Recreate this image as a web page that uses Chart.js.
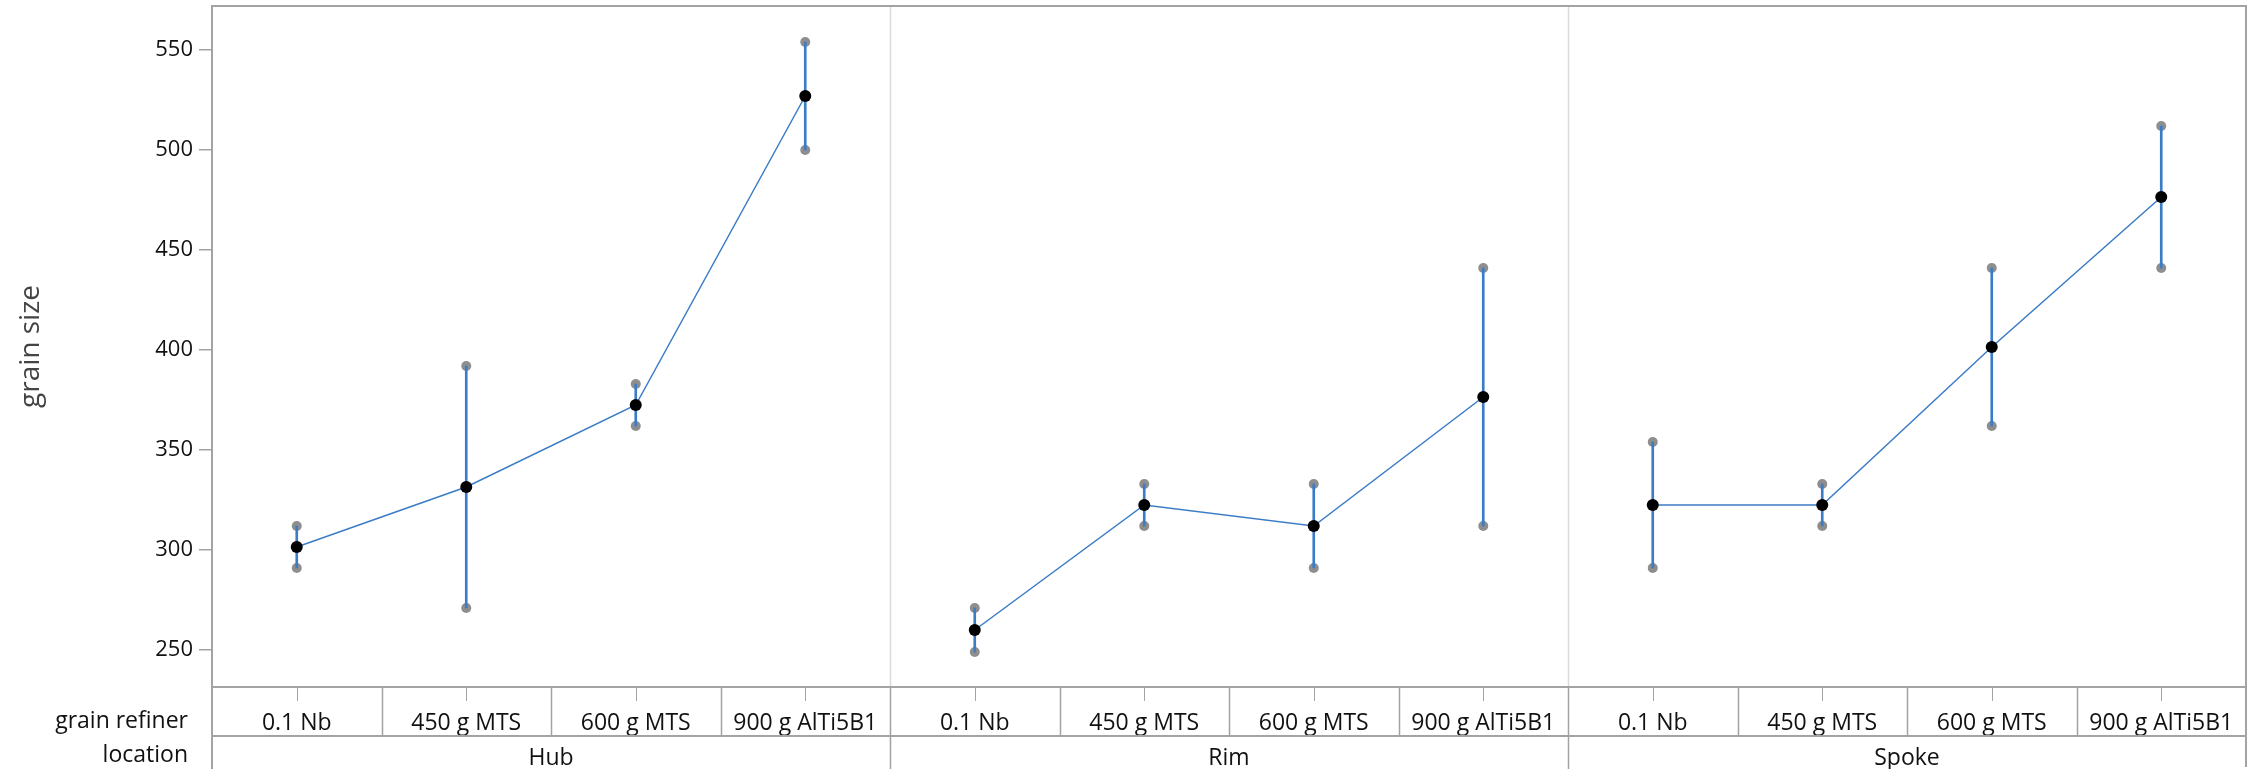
<!DOCTYPE html>
<html><head><meta charset="utf-8">
<script src="https://cdn.jsdelivr.net/npm/chart.js@4.4.1/dist/chart.umd.min.js"></script>
<style>html,body{margin:0;padding:0;background:#fff}canvas{display:block}</style>
</head><body>
<canvas id="c" width="2264" height="769"></canvas>
<script>
// ---- data ----
const refiners = ['0.1 Nb', '450 g MTS', '600 g MTS', '900 g AlTi5B1'];
const locations = ['Hub', 'Rim', 'Spoke'];
const hubMean   = [301.5, 331.5, 372.5, 527];
const hubLow    = [291, 271, 362, 500];
const hubHigh   = [312, 392, 383, 554];
const rimMean   = [260, 322.5, 312, 376.5];
const rimLow    = [249, 312, 291, 312];
const rimHigh   = [271, 333, 333, 441];
const spokeMean = [322.5, 322.5, 401.5, 476.5];
const spokeLow  = [291, 312, 362, 441];
const spokeHigh = [354, 333, 441, 512];
const yTicks = [250, 300, 350, 400, 450, 500, 550];
const yTitle = 'grain size';
const rowTitles = ['grain refiner', 'location'];

// ---- build library structures ----
const labels = [].concat(refiners, refiners, refiners);
const lows = [].concat(hubLow, rimLow, spokeLow);
const highs = [].concat(hubHigh, rimHigh, spokeHigh);
const ranges = lows.map((l, i) => [l, highs[i]]);
const nulls4 = [null, null, null, null];
const hubLine = [].concat(hubMean, nulls4, nulls4);
const rimLine = [].concat(nulls4, rimMean, nulls4);
const spokeLine = [].concat(nulls4, nulls4, spokeMean);

const BLUE = '#3b7cc6';
const GRAY = '#8e8e8e';
const LINE = '#a3a3a3';
const FONT = '"Open Sans", "Noto Sans", sans-serif';

const meanDs = (d) => ({
  type: 'line', data: d, borderColor: BLUE, borderWidth: 1.5, spanGaps: false,
  pointRadius: 6, pointBackgroundColor: '#000', pointBorderColor: '#000', pointBorderWidth: 0,
  order: 1, clip: false
});

const noPad = s => { s.paddingTop = 0; s.paddingBottom = 0; s.paddingLeft = 0; s.paddingRight = 0; };

const tablePlugin = {
  id: 'tablePlugin',
  beforeDatasetsDraw(chart) {
    const {ctx, chartArea: a, scales: {x}} = chart;
    const step = x.getPixelForValue(1) - x.getPixelForValue(0);
    ctx.save();
    ctx.strokeStyle = '#dadada'; ctx.lineWidth = 1.5;
    [4, 8].forEach(k => {
      const px = Math.round(x.getPixelForValue(k) - step / 2) + 0.5;
      ctx.beginPath(); ctx.moveTo(px, a.top); ctx.lineTo(px, a.bottom); ctx.stroke();
    });
    ctx.restore();
  },
  afterDraw(chart) {
    const {ctx, chartArea: a, scales: {x}} = chart;
    const step = x.getPixelForValue(1) - x.getPixelForValue(0);
    const bottom = chart.height;
    ctx.save();
    ctx.strokeStyle = LINE; ctx.lineWidth = 1.5;
    const vline = (px, y0, y1) => { ctx.beginPath(); ctx.moveTo(px, y0); ctx.lineTo(px, y1); ctx.stroke(); };
    const hline = (py, x0, x1) => { ctx.beginPath(); ctx.moveTo(x0, py); ctx.lineTo(x1, py); ctx.stroke(); };
    for (let k = 1; k < labels.length; k++) {
      const px = Math.round(x.getPixelForValue(k) - step / 2) + 0.5;
      vline(px, a.bottom, k % 4 === 0 ? bottom : x.bottom);
    }
    ctx.lineWidth = 1;
    for (let i = 0; i < labels.length; i++) {
      const px = Math.round(x.getPixelForValue(i)) + 0.5;
      vline(px, a.bottom, a.bottom + 14);
    }
    ctx.lineWidth = 2;
    hline(a.top, a.left, a.right);
    hline(a.bottom, a.left, a.right);
    hline(x.bottom, a.left, a.right);
    vline(a.left, a.top - 1, bottom);
    vline(a.right, a.top - 1, bottom - 2);
    ctx.fillStyle = '#111';
    ctx.font = '23px ' + FONT;
    ctx.textAlign = 'right'; ctx.textBaseline = 'middle';
    ctx.fillText(rowTitles[0], a.left - 24, x.top + 34);
    ctx.fillText(rowTitles[1], a.left - 24, x.bottom + 19);
    ctx.restore();
  }
};

new Chart(document.getElementById('c'), {
  data: {
    labels: labels,
    datasets: [
      { type: 'line', data: lows, showLine: false, pointRadius: 5, pointBackgroundColor: GRAY, pointBorderWidth: 0, order: 3, clip: false },
      { type: 'line', data: highs, showLine: false, pointRadius: 5, pointBackgroundColor: GRAY, pointBorderWidth: 0, order: 3, clip: false },
      { type: 'bar', data: ranges, backgroundColor: BLUE, barThickness: 2, borderWidth: 0, order: 2 },
      meanDs(hubLine), meanDs(rimLine), meanDs(spokeLine)
    ]
  },
  options: {
    responsive: false, animation: false,
    layout: { padding: { top: 6, right: 18, left: 0, bottom: 0 } },
    plugins: { legend: { display: false }, tooltip: { enabled: false } },
    scales: {
      x: {
        type: 'category', position: 'bottom', offset: true, weight: 0,
        grid: { display: false }, border: { display: false },
        ticks: { font: { family: FONT, size: 23 }, color: '#111', padding: 15, maxRotation: 0, autoSkip: false },
        afterFit: s => { s.height = 49; noPad(s); }
      },
      x2: {
        type: 'category', position: 'bottom', offset: true, weight: 1, labels: locations,
        grid: { display: false }, border: { display: false },
        ticks: { font: { family: FONT, size: 23 }, color: '#111', padding: 1, maxRotation: 0, autoSkip: false },
        afterFit: s => { s.height = 33; noPad(s); }
      },
      y: {
        type: 'linear', position: 'left', min: 231.5, max: 572,
        afterBuildTicks: s => { s.ticks = yTicks.map(v => ({ value: v })); },
        grid: { drawOnChartArea: false, drawTicks: true, tickLength: 13, color: LINE, lineWidth: 1.5 },
        border: { display: false },
        ticks: { font: { family: FONT, size: 22 }, color: '#111', padding: 6 },
        title: { display: true, text: yTitle, color: '#444', font: { family: FONT, size: 28 }, padding: { top: 14, bottom: 0 } },
        afterFit: s => { s.width = 212; noPad(s); }
      }
    }
  },
  plugins: [tablePlugin]
});
</script>
</body></html>
